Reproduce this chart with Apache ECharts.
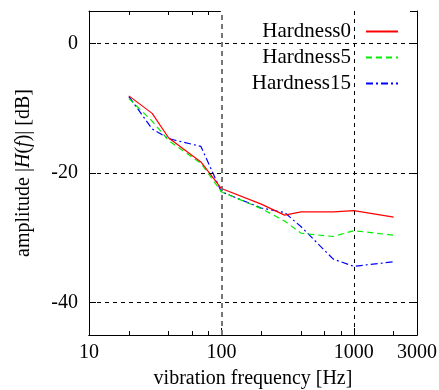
<!DOCTYPE html>
<html>
<head>
<meta charset="utf-8">
<script src="https://cdn.jsdelivr.net/npm/echarts@6/dist/echarts.min.js"></script>
<style>
html, body { margin: 0; padding: 0; background: #fff; }
#chart { width: 439px; height: 390px; }
</style>
</head>
<body>
<div id="chart"></div>
<script>
    'use strict';

    // vibration frequency [Hz]
    var freqs = [20, 30, 40, 70, 100, 200, 300, 400, 700, 1000, 2000];
    // amplitude [dB]
    var hardness0 = [-8.1, -10.8, -14.6, -18.3, -22.4, -24.8, -26.5, -26.0, -26.0, -25.8, -26.8];
    var hardness5 = [-8.5, -12.0, -15.0, -18.5, -22.9, -25.5, -27.4, -29.3, -29.8, -28.9, -29.6];
    var hardness15 = [-8.2, -13.2, -14.7, -15.9, -22.9, -25.4, -26.1, -28.3, -33.3, -34.4, -33.7];

    var xTickLabels = [10, 100, 1000, 3000];
    var xMajorTicks = [10, 100, 1000];
    var xMinorTicks = [20, 40, 60, 80, 200, 400, 600, 800, 2000];
    var yTickLabels = [-40, -20, 0];

    var font = 'Liberation Serif';

    function pairs(ys) {
        return freqs.map(function (f, i) { return [f, ys[i]]; });
    }

    var chart = echarts.init(document.getElementById('chart'));

    function xAxisBase(pos) {
        return {
            type: 'log',
            logBase: 10,
            min: 10,
            max: 3000,
            position: pos,
            axisLine: { show: false },
            splitLine: { show: false },
            axisLabel: { show: false },
            axisTick: { show: false }
        };
    }

    var xMain = xAxisBase('bottom');
    xMain.axisLine = { show: true, onZero: false, lineStyle: { color: '#000', width: 1 } };
    xMain.axisTick = { show: true, inside: true, length: 7, customValues: xMajorTicks, lineStyle: { color: '#000', width: 1 } };
    xMain.axisLabel = {
        show: true, customValues: xTickLabels, margin: 8,
        color: '#000', fontFamily: font, fontSize: 20,
        formatter: function (v) { return String(Math.round(v)); }
    };
    xMain.name = 'vibration frequency [Hz]';
    xMain.nameLocation = 'middle';
    xMain.nameGap = 34;
    xMain.nameTextStyle = { color: '#000', fontFamily: font, fontSize: 20 };

    var xMinorBottom = xAxisBase('bottom');
    xMinorBottom.axisLine = { show: true, onZero: false, lineStyle: { color: '#000', width: 1 } };
    xMinorBottom.axisTick = { show: true, inside: true, length: 4, customValues: xMinorTicks, lineStyle: { color: '#000', width: 1 } };

    var xTop = xAxisBase('top');
    xTop.axisLine = { show: true, onZero: false, lineStyle: { color: '#000', width: 1 } };
    xTop.axisTick = { show: true, inside: true, length: 4, customValues: xMinorTicks.concat(xMajorTicks), lineStyle: { color: '#000', width: 1 } };

    var option = {
        animation: false,
        backgroundColor: '#fff',
        grid: { left: 89, right: 22, top: 11, bottom: 55, containLabel: false, outerBoundsMode: 'none' },
        legend: {
            orient: 'vertical',
            right: 29,
            top: 11,
            align: 'right',
            padding: [10, 11, 8, 31],
            itemGap: 5,
            itemWidth: 32,
            itemHeight: 14,
            backgroundColor: '#fff',
            itemStyle: { opacity: 0 },
            textStyle: {
                color: '#000', fontFamily: font, fontSize: 21,
                width: 100, align: 'right', padding: [0, 10, 0, 0]
            },
            data: ['Hardness0', 'Hardness5', 'Hardness15']
        },
        xAxis: [xMain, xMinorBottom, xTop],
        yAxis: [{
            type: 'value',
            min: -45,
            max: 5,
            position: 'left',
            axisLine: { show: true, onZero: false, lineStyle: { color: '#000', width: 1 } },
            axisTick: { show: true, inside: true, length: 7, customValues: yTickLabels, lineStyle: { color: '#000', width: 1 } },
            axisLabel: { customValues: yTickLabels, margin: 11, color: '#000', fontFamily: font, fontSize: 20 },
            splitLine: { show: false },
            name: 'amplitude |{i|H}({i|f})| [dB]',
            nameLocation: 'middle',
            nameGap: 55,
            nameTextStyle: {
                color: '#000', fontFamily: font, fontSize: 20,
                rich: { i: { fontStyle: 'italic', fontFamily: font, fontSize: 20, color: '#000' } }
            }
        }, {
            type: 'value',
            min: -45,
            max: 5,
            position: 'right',
            axisLine: { show: true, onZero: false, lineStyle: { color: '#000', width: 1 } },
            axisTick: { show: true, inside: true, length: 7, customValues: yTickLabels, lineStyle: { color: '#000', width: 1 } },
            axisLabel: { show: false },
            splitLine: { show: false }
        }],
        series: [{
            name: 'Hardness0',
            type: 'line',
            symbol: 'none',
            color: '#ff0000',
            lineStyle: { color: '#ff0000', width: 1.2, type: 'solid' },
            data: pairs(hardness0),
            z: 4,
            markLine: {
                silent: true,
                symbol: 'none',
                label: { show: false },
                lineStyle: { color: '#000', width: 1, type: [4, 4] },
                data: [
                    { yAxis: 0 }, { yAxis: -20 }, { yAxis: -40 },
                    { xAxis: 1000 },
                    { xAxis: 100, lineStyle: { color: '#777', width: 2, type: [5, 4] } }
                ]
            }
        }, {
            name: 'Hardness5',
            type: 'line',
            symbol: 'none',
            color: '#00ee00',
            lineStyle: { color: '#00ee00', width: 1.2, type: [6, 4] },
            data: pairs(hardness5),
            z: 3
        }, {
            name: 'Hardness15',
            type: 'line',
            symbol: 'none',
            color: '#0000ff',
            lineStyle: { color: '#0000ff', width: 1.2, type: [7, 3, 2, 3] },
            data: pairs(hardness15),
            z: 2
        }]
    };

    chart.setOption(option);
</script>
</body>
</html>
